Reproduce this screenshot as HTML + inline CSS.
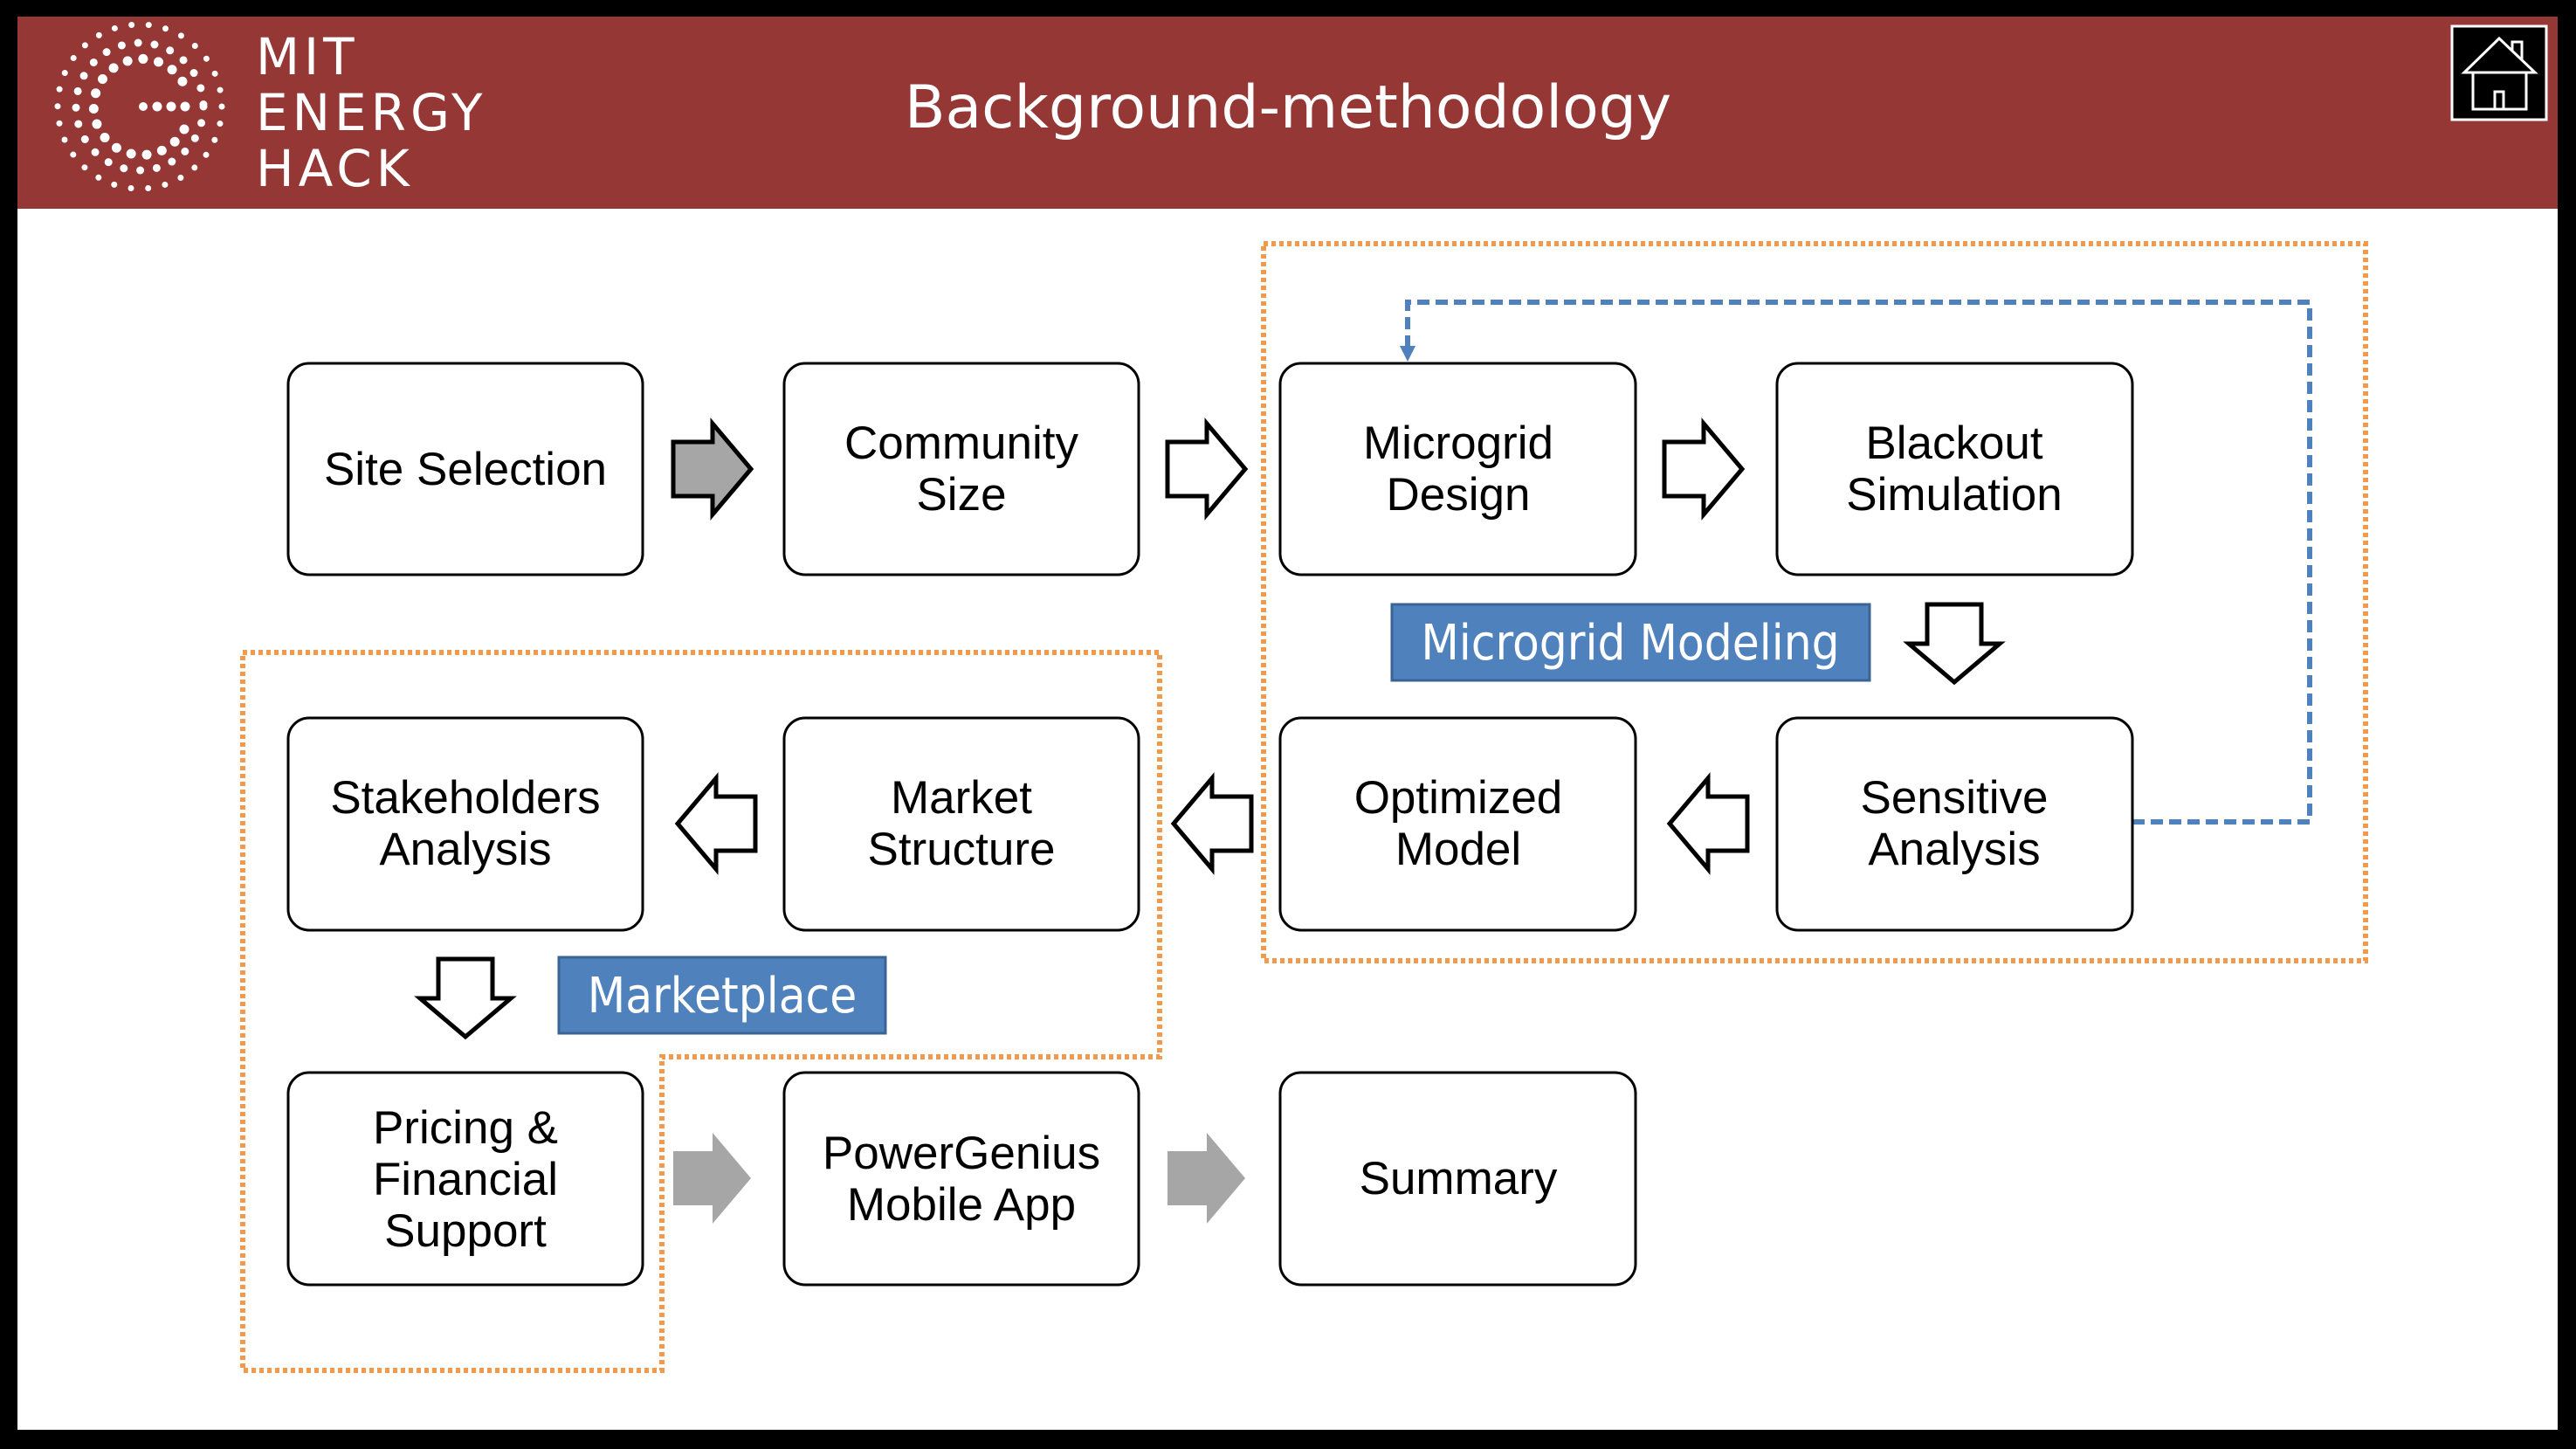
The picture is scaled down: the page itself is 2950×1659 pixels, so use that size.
<!DOCTYPE html>
<html><head><meta charset="utf-8"><style>
html,body{margin:0;padding:0;background:#000;}
svg{display:block;}
.t{font-family:"Liberation Sans",Arial,sans-serif;font-size:53px;fill:#000;text-anchor:middle;}
.b{fill:#fff;stroke:#000;stroke-width:3;}
</style></head><body>
<svg width="2950" height="1659" viewBox="0 0 2950 1659" xmlns="http://www.w3.org/2000/svg">
<rect x="0" y="0" width="2950" height="1659" fill="#000"/>
<rect x="20" y="19" width="2909" height="1618" fill="#fff"/>
<rect x="20" y="19" width="2909" height="220" fill="#953735"/>
<g fill="#fff">
<circle cx="160" cy="122" r="94" fill="none" stroke="#fff" stroke-width="7" stroke-linecap="round" stroke-dasharray="0 19.7"/>
<circle cx="160" cy="122" r="73" fill="none" stroke="#fff" stroke-width="9" stroke-linecap="round" stroke-dasharray="0 19"/>
<path d="M 211 148 A 55 55 0 1 1 210 95" fill="none" stroke="#fff" stroke-width="11" stroke-linecap="round" stroke-dasharray="0 18"/>
<circle cx="164" cy="122" r="5"/><circle cx="180" cy="122" r="5.5"/><circle cx="196" cy="122" r="5.5"/><circle cx="212" cy="122" r="5.5"/>
</g>
<g font-family="'DejaVu Sans','Liberation Sans',sans-serif" font-size="58" fill="#fff" letter-spacing="5">
<text x="293" y="85">MIT</text>
<text x="293" y="149">ENERGY</text>
<text x="293" y="213">HACK</text>
</g>
<text x="1475" y="146" font-family="'DejaVu Sans','Liberation Sans',sans-serif" font-size="68" fill="#fff" text-anchor="middle">Background-methodology</text>
<rect x="2808" y="30" width="108" height="107" fill="#000" stroke="#fff" stroke-width="3"/>
<g fill="none" stroke="#fff" stroke-width="3">
<path d="M2822 83 L2862 44 L2903 83 Z"/>
<path d="M2877 58 V48 H2888 V69"/>
<rect x="2832" y="83" width="61" height="42"/>
<rect x="2857" y="105" width="10" height="20"/>
</g>
<g fill="none" stroke="#F09A4E" stroke-width="6" stroke-dasharray="5 4">
<rect x="1447" y="279" width="1262" height="821"/>
<path d="M278 747 H1328 V1210 H758 V1569 H278 Z"/>
</g>
<path d="M2442 941 H2645 V346 H1612 V398" fill="none" stroke="#4F81BD" stroke-width="6" stroke-dasharray="14 7"/>
<path d="M1603 396 L1621 396 L1612 414 Z" fill="#4F81BD"/>
<g class="b">
<rect x="330" y="416" width="406" height="242" rx="24"/>
<rect x="898" y="416" width="406" height="242" rx="24"/>
<rect x="1466" y="416" width="407" height="242" rx="24"/>
<rect x="2035" y="416" width="407" height="242" rx="24"/>
<rect x="330" y="822" width="406" height="243" rx="24"/>
<rect x="898" y="822" width="406" height="243" rx="24"/>
<rect x="1466" y="822" width="407" height="243" rx="24"/>
<rect x="2035" y="822" width="407" height="243" rx="24"/>
<rect x="330" y="1228" width="406" height="243" rx="24"/>
<rect x="898" y="1228" width="406" height="243" rx="24"/>
<rect x="1466" y="1228" width="407" height="243" rx="24"/>
</g>
<g class="t">
<text x="533" y="555">Site Selection</text>
<text x="1101" y="525">Community</text><text x="1101" y="584">Size</text>
<text x="1670" y="525">Microgrid</text><text x="1670" y="584">Design</text>
<text x="2238" y="525">Blackout</text><text x="2238" y="584">Simulation</text>
<text x="533" y="931">Stakeholders</text><text x="533" y="990">Analysis</text>
<text x="1101" y="931">Market</text><text x="1101" y="990">Structure</text>
<text x="1670" y="931">Optimized</text><text x="1670" y="990">Model</text>
<text x="2238" y="931">Sensitive</text><text x="2238" y="990">Analysis</text>
<text x="533" y="1309">Pricing &amp;</text><text x="533" y="1368">Financial</text><text x="533" y="1427">Support</text>
<text x="1101" y="1338">PowerGenius</text><text x="1101" y="1397">Mobile App</text>
<text x="1670" y="1367">Summary</text>
</g>
<defs>
<path id="ar" d="M0 -31 H45 V-52 L89 0 L45 52 V31 H0 Z"/>
<path id="dn" d="M-31 0 H31 V45 H52 L0 89 L-52 45 H-31 Z"/>
</defs>
<g stroke="#000" stroke-width="5" stroke-linejoin="miter">
<use href="#ar" x="771" y="537" fill="#A6A6A6"/>
<use href="#ar" x="1337" y="537" fill="#fff"/>
<use href="#ar" x="1906" y="537" fill="#fff"/>
<use href="#ar" transform="translate(865 943) scale(-1 1)" fill="#fff"/>
<use href="#ar" transform="translate(1433 943) scale(-1 1)" fill="#fff"/>
<use href="#ar" transform="translate(2001 943) scale(-1 1)" fill="#fff"/>
<use href="#dn" x="2238" y="692" fill="#fff"/>
<use href="#dn" x="533" y="1098" fill="#fff"/>
</g>
<use href="#ar" x="771" y="1349" fill="#A6A6A6"/>
<use href="#ar" x="1337" y="1349" fill="#A6A6A6"/>
<rect x="1594" y="692" width="547" height="87" fill="#4F81BD" stroke="#3A6496" stroke-width="3"/>
<text x="1867" y="755" font-family="'DejaVu Sans Condensed','Liberation Sans Narrow','Liberation Sans',sans-serif" font-size="56" fill="#fff" text-anchor="middle">Microgrid Modeling</text>
<rect x="640" y="1096" width="374" height="87" fill="#4F81BD" stroke="#3A6496" stroke-width="3"/>
<text x="827" y="1159" font-family="'DejaVu Sans Condensed','Liberation Sans Narrow','Liberation Sans',sans-serif" font-size="56" fill="#fff" text-anchor="middle">Marketplace</text>
</svg>
</body></html>
